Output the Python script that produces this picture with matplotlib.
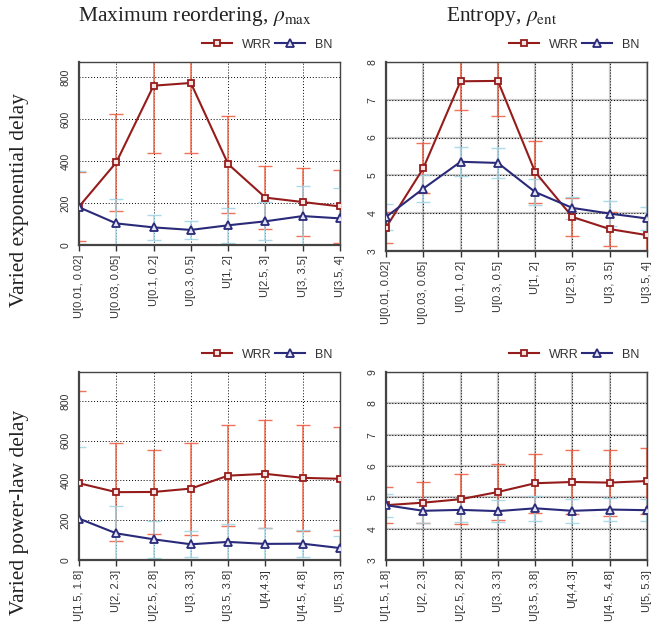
import numpy as np
import matplotlib
matplotlib.use('Agg')
import matplotlib.pyplot as plt

plt.rcParams['font.family'] = ['Liberation Sans', 'DejaVu Sans']
plt.rcParams['mathtext.fontset'] = 'stix'

# x categories
exp_labels = ['U[0.01, 0.02]', 'U[0.03, 0.05]', 'U[0.1, 0.2]', 'U[0.3, 0.5]',
              'U[1, 2]', 'U[2.5, 3]', 'U[3, 3.5]', 'U[3.5, 4]']
pow_labels = ['U[1.5, 1.8]', 'U[2, 2.3]', 'U[2.5, 2.8]', 'U[3, 3.3]',
              'U[3.5, 3.8]', 'U[4,4.3]', 'U[4.5, 4.8]', 'U[5, 5.3]']

# exponential delay, max reordering
exp_max_wrr = [183, 394, 760, 773, 386, 226, 205, 184]
exp_max_wrr_err = [165, 232, 323, 336, 231, 152, 162, 174]
exp_max_bn = [180, 103, 84, 72, 94, 113, 138, 127]
exp_max_bn_err = [173, 115, 58, 44, 83, 90, 145, 146]

# exponential delay, entropy
exp_ent_wrr = [3.62, 5.19, 7.49, 7.50, 5.09, 3.90, 3.58, 3.42]
exp_ent_wrr_err = [0.40, 0.66, 0.77, 0.92, 0.83, 0.50, 0.46, 0.45]
exp_ent_bn = [3.90, 4.65, 5.36, 5.33, 4.56, 4.14, 3.99, 3.86]
exp_ent_bn_err = [0.35, 0.35, 0.38, 0.40, 0.35, 0.30, 0.32, 0.31]

# power-law delay, max reordering
pow_max_wrr = [386, 341, 342, 359, 424, 433, 413, 408]
pow_max_wrr_err = [465, 245, 212, 231, 255, 272, 268, 259]
pow_max_bn = [208, 134, 104, 79, 91, 81, 82, 60]
pow_max_bn_err = [362, 139, 93, 66, 89, 82, 69, 62]

# power-law delay, entropy
pow_ent_wrr = [4.75, 4.83, 4.94, 5.17, 5.45, 5.49, 5.47, 5.52]
pow_ent_wrr_err = [0.57, 0.65, 0.80, 0.90, 0.94, 1.03, 1.05, 1.04]
pow_ent_bn = [4.75, 4.57, 4.60, 4.56, 4.65, 4.57, 4.61, 4.59]
pow_ent_bn_err = [0.37, 0.38, 0.38, 0.35, 0.39, 0.38, 0.38, 0.36]

W, H = 671, 622
fig = plt.figure(figsize=(W / 100, H / 100), dpi=100)


def box(x0, y0, x1, y1):
    return [x0 / W, 1 - y1 / H, (x1 - x0) / W, (y1 - y0) / H]


wrr_col = '#961c1c'
bn_col = '#2a2a7a'
wrr_err = '#ee5a3c'
bn_err = '#9fd4e4'


def panel(rect, labels, wrr, wrr_e, bn, bn_e, ylim, yticks, gray_grid):
    ax = fig.add_axes(rect)
    x = np.arange(len(labels))
    if gray_grid:
        for t in yticks:
            ax.axhline(t, color='#c8c8c8', lw=1.6, zorder=0)
        for xi in x:
            ax.axvline(xi, color='#c8c8c8', lw=1.6, zorder=0)
    ax.grid(True, color='black', linestyle=(0, (1, 2)), lw=0.7, zorder=1)
    ax.errorbar(x, wrr, yerr=wrr_e, fmt='none', ecolor=wrr_err, elinewidth=1.2,
                capsize=5, capthick=1.0, alpha=0.85, zorder=2)
    ax.errorbar(x, bn, yerr=bn_e, fmt='none', ecolor=bn_err, elinewidth=1.2,
                capsize=5, capthick=1.0, alpha=0.85, zorder=2)
    ax.plot(x, wrr, '-s', color=wrr_col, lw=1.5, ms=4.8, mfc='#f4e4e4',
            mec=wrr_col, mew=1.3, label='WRR', zorder=4)
    ax.plot(x, bn, '-^', color=bn_col, lw=1.5, ms=5.5, mfc='#e4e4f4',
            mec=bn_col, mew=1.3, label='BN', zorder=4)
    ax.set_xlim(0, len(labels) - 1)
    ax.set_ylim(*ylim)
    ax.set_xticks(x)
    ax.set_xticklabels(labels, rotation=90, fontsize=8, color='#333333')
    ax.set_yticks(yticks)
    ax.set_yticklabels([str(t) for t in yticks], rotation=90, fontsize=7.5,
                       color='#333333', va='center')
    ax.tick_params(axis='x', length=4, width=1, color='#333333', pad=3)
    ax.tick_params(axis='y', length=0, pad=6)
    for s in ax.spines.values():
        s.set_linewidth(1.0)
        s.set_color('#444444')
    ax.spines['left'].set_linewidth(1.6)
    ax.spines['bottom'].set_linewidth(1.6)
    ax.legend(loc='lower right', bbox_to_anchor=(1.0, 1.02), ncol=2,
              frameon=False, fontsize=9, handlelength=2.4, columnspacing=0.3,
              handletextpad=0.8, borderaxespad=0.2, labelcolor='#333333')
    return ax


panel(box(79, 62, 340, 245), exp_labels, exp_max_wrr, exp_max_wrr_err,
      exp_max_bn, exp_max_bn_err, (0, 873), [0, 200, 400, 600, 800], False)
panel(box(386, 62, 647, 251), exp_labels, exp_ent_wrr, exp_ent_wrr_err,
      exp_ent_bn, exp_ent_bn_err, (3, 8), [3, 4, 5, 6, 7, 8], True)
panel(box(79, 372, 340, 560), pow_labels, pow_max_wrr, pow_max_wrr_err,
      pow_max_bn, pow_max_bn_err, (0, 945), [0, 200, 400, 600, 800], False)
panel(box(386, 372, 647, 560), pow_labels, pow_ent_wrr, pow_ent_wrr_err,
      pow_ent_bn, pow_ent_bn_err, (3, 9), [3, 4, 5, 6, 7, 8, 9], True)

serif = ['Liberation Serif', 'DejaVu Serif']
fig.text(195 / W, 1 - 17 / H, r'Maximum reordering, $\rho_{\mathrm{max}}$',
         ha='center', va='center', fontsize=15.5, family=serif, color='#222222')
fig.text(502 / W, 1 - 17 / H, r'Entropy, $\rho_{\mathrm{ent}}$',
         ha='center', va='center', fontsize=15.5, family=serif, color='#222222')
fig.text(20 / W, 1 - 200 / H, 'Varied exponential delay', rotation=90,
         ha='center', va='center', fontsize=15.5, family=serif, color='#222222')
fig.text(20 / W, 1 - 512 / H, 'Varied power-law delay', rotation=90,
         ha='center', va='center', fontsize=15.5, family=serif, color='#222222')

fig.savefig('out.png', dpi=100)
